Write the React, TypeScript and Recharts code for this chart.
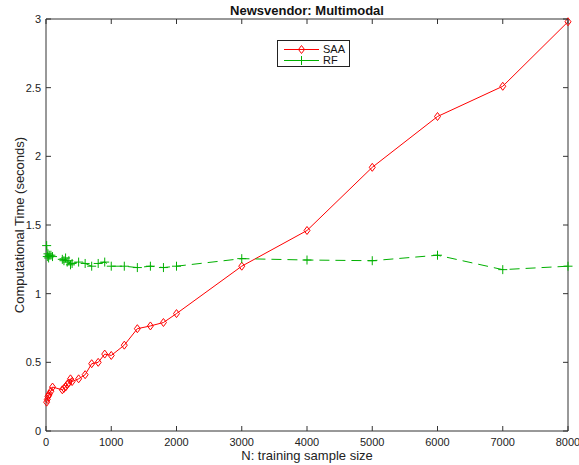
import { LineChart, Line, XAxis, YAxis, Legend } from 'recharts';

// training sample sizes N
const sampleSizes = [10, 20, 30, 40, 50, 75, 100, 250, 275, 300, 325, 350, 375, 400, 500, 600, 700, 800, 900, 1000, 1200, 1400, 1600, 1800, 2000, 3000, 4000, 5000, 6000, 7000, 8000];
// computational time (seconds)
const saaTimes = [0.21, 0.23, 0.25, 0.26, 0.27, 0.29, 0.32, 0.30, 0.31, 0.32, 0.34, 0.35, 0.38, 0.36, 0.38, 0.41, 0.49, 0.50, 0.56, 0.55, 0.625, 0.745, 0.765, 0.79, 0.855, 1.20, 1.46, 1.92, 2.29, 2.51, 2.98];
const rfTimes = [1.35, 1.27, 1.29, 1.26, 1.28, 1.28, 1.27, 1.25, 1.24, 1.26, 1.23, 1.24, 1.21, 1.22, 1.23, 1.22, 1.20, 1.22, 1.23, 1.20, 1.20, 1.19, 1.20, 1.19, 1.20, 1.255, 1.245, 1.24, 1.28, 1.175, 1.20];

const xTicks = [0, 1000, 2000, 3000, 4000, 5000, 6000, 7000, 8000];
const yTicks = [0, 0.5, 1, 1.5, 2, 2.5, 3];

const data = sampleSizes.map((n, i) => ({ n, saa: saaTimes[i], rf: rfTimes[i] }));

const FONT = '"Liberation Sans", Arial, Helvetica, sans-serif';
const AXIS = '#333';
const RED = '#ff0000';
const GREEN = '#00b000';
const TICK_LEN = 5;

const Diamond = ({ cx, cy }: { cx: number; cy: number }) => (
  <path d={`M${cx},${cy - 4}L${cx + 3},${cy}L${cx},${cy + 4}L${cx - 3},${cy}Z`} fill="none" stroke={RED} strokeWidth={1} />
);

const Plus = ({ cx, cy }: { cx: number; cy: number }) => (
  <path d={`M${cx - 4.5},${cy}H${cx + 4.5}M${cx},${cy - 4.5}V${cy + 4.5}`} fill="none" stroke={GREEN} strokeWidth={1} />
);

// MATLAB-style ticks: marks point into the plot box
const BottomTick = ({ x, y, payload }: any) => (
  <g>
    <line x1={x} x2={x} y1={y - 15} y2={y - 15 - TICK_LEN} stroke={AXIS} />
    <text x={x} y={y} textAnchor="middle" fontSize={11} fontFamily={FONT} fill="#222">{payload.value}</text>
  </g>
);
const TopTick = ({ x, y }: any) => <line x1={x} x2={x} y1={y} y2={y + TICK_LEN} stroke={AXIS} />;
const LeftTick = ({ x, y, payload }: any) => (
  <g>
    <line x1={x + 5} x2={x + 5 + TICK_LEN} y1={y} y2={y} stroke={AXIS} />
    <text x={x} y={y + 4} textAnchor="end" fontSize={11} fontFamily={FONT} fill="#222">{payload.value}</text>
  </g>
);
const RightTick = ({ x, y }: any) => <line x1={x} x2={x - TICK_LEN} y1={y} y2={y} stroke={AXIS} />;

const LegendBox = () => (
  <div style={{ boxSizing: 'border-box', width: 73, height: 27, border: '1px solid #222', background: '#fff', padding: '3px 0 0 5px', fontFamily: FONT, fontSize: 11, color: '#111' }}>
    {[{ name: 'SAA', color: RED, mark: 'd' }, { name: 'RF', color: GREEN, mark: 'p' }].map((item) => (
      <div key={item.name} style={{ display: 'flex', alignItems: 'center', height: 11, lineHeight: '11px' }}>
        <svg width={40} height={11} style={{ display: 'block' }}>
          <line x1={1} x2={36} y1={5.5} y2={5.5} stroke={item.color} />
          {item.mark === 'd' ? <Diamond cx={18.5} cy={5.5} /> : <Plus cx={18.5} cy={5.5} />}
        </svg>
        <span>{item.name}</span>
      </div>
    ))}
  </div>
);

export default function App() {
  return (
    <div style={{ position: 'absolute', left: 0, top: 0, width: 579, height: 465, background: '#fff' }}>
      <LineChart width={579} height={465} data={data} margin={{ top: 18, right: 10, bottom: 0, left: 0 }}>
        <XAxis
          dataKey="n"
          type="number"
          domain={[0, 8000]}
          ticks={xTicks}
          interval={0}
          height={34}
          tickSize={0}
          tickMargin={15}
          tick={<BottomTick />}
          stroke={AXIS}
          label={{ value: 'N: training sample size', position: 'insideBottom', offset: 5, fontSize: 13, fontFamily: FONT, fill: '#222' }}
        />
        <XAxis
          xAxisId="top"
          dataKey="n"
          orientation="top"
          type="number"
          domain={[0, 8000]}
          ticks={xTicks}
          interval={0}
          height={1}
          tickSize={0}
          tickMargin={0}
          tick={<TopTick />}
          stroke={AXIS}
          label={{ value: 'Newsvendor: Multimodal', position: 'top', offset: 3, fontSize: 13, fontWeight: 'bold', fontFamily: FONT, fill: '#111' }}
        />
        <YAxis
          type="number"
          domain={[0, 3]}
          ticks={yTicks}
          interval={0}
          width={46}
          tickSize={0}
          tickMargin={5}
          tick={<LeftTick />}
          stroke={AXIS}
          label={{ value: 'Computational Time (seconds)', angle: -90, position: 'insideLeft', offset: 19, fontSize: 13, fontFamily: FONT, fill: '#222', style: { textAnchor: 'middle' } }}
        />
        <YAxis
          yAxisId="right"
          orientation="right"
          type="number"
          domain={[0, 3]}
          ticks={yTicks}
          interval={0}
          width={1}
          tickSize={0}
          tickMargin={0}
          tick={<RightTick />}
          stroke={AXIS}
        />
        <Legend
          layout="horizontal"
          verticalAlign="middle"
          align="center"
          content={<LegendBox />}
          wrapperStyle={{ left: 277, top: 40, width: 73, height: 27 }}
        />
        <Line
          dataKey="saa"
          name="SAA"
          type="linear"
          stroke={RED}
          strokeWidth={1}
          dot={(p: any) => <Diamond key={`s${p.index}`} cx={p.cx} cy={p.cy} />}
          activeDot={false}
          isAnimationActive={false}
        />
        {/* RF uses the top/right axes (same domains) so the MATLAB box gets drawn */}
        <Line
          xAxisId="top"
          yAxisId="right"
          dataKey="rf"
          name="RF"
          type="linear"
          stroke={GREEN}
          strokeWidth={1}
          strokeDasharray="10 6"
          dot={(p: any) => <Plus key={`r${p.index}`} cx={p.cx} cy={p.cy} />}
          activeDot={false}
          isAnimationActive={false}
        />
      </LineChart>
    </div>
  );
}
